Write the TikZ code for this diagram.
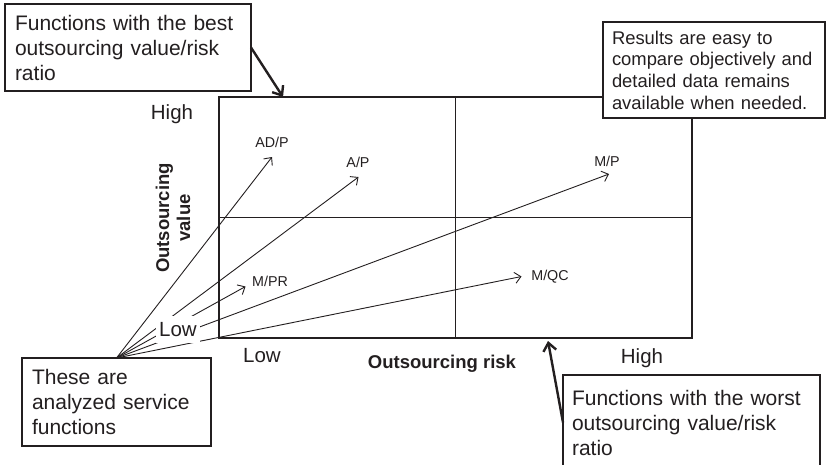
\documentclass[tikz,border=0pt]{standalone}
\usepackage{fontspec}
\setmainfont{Liberation Sans}
\usetikzlibrary{arrows.meta}
\definecolor{ink}{RGB}{35,31,32}

\begin{document}
\begin{tikzpicture}[x=1pt,y=-1pt,
  every node/.style={text=ink},
  callout/.style={draw=ink, line width=1.2pt, fill=white, anchor=north west,
    align=left, inner ysep=0pt, outer sep=0pt, font=\fontsize{21}{25}\selectfont},
  axislabel/.style={font=\fontsize{20.5}{24}\selectfont, inner sep=0pt},
  axistitle/.style={font=\bfseries\fontsize{18.5}{21}\selectfont, inner sep=0pt},
  funclabel/.style={font=\fontsize{14.3}{16}\selectfont, inner sep=0pt},
  fanline/.style={draw=ink, line width=0.9pt, -{Straight Barb[length=6pt,width=11pt]}},
  pointer/.style={draw=ink, line width=2.4pt, -{Straight Barb[length=8pt,width=13pt]}},
  divider/.style={draw=ink, line width=1.2pt}]

\useasboundingbox (0,0) rectangle (826,464);

% value/risk grid with its quadrant dividers
\node[draw=ink, line width=2.8pt, minimum width=473pt, minimum height=241pt,
  inner sep=0pt, outer sep=0pt] (grid) at (455.5,217.5) {};
\draw[divider] (grid.north) -- (grid.south);
\draw[divider] (grid.west) -- (grid.east);

% axis labels
\node[axislabel] (highv) at (172,114) {High};
\node[axislabel] (lowh) at (262,355.5) {Low};
\node[axislabel] (highh) at (642,358) {High};
\node[axistitle] (risk) at (442,363.5) {Outsourcing risk};
\node[axistitle, rotate=90, align=center] (value) at (173,218) {Outsourcing\\value};

% function labels and the points they sit at
\node[funclabel] (adp) at (272,142) {AD/P};
\node[funclabel] (ap) at (358,162) {A/P};
\node[funclabel] (mp) at (607,161) {M/P};
\node[funclabel] (mpr) at (270,281) {M/PR};
\node[funclabel] (mqc) at (550,277) {M/QC};
\coordinate (adpTip) at (272,157);
\coordinate (apTip) at (358.5,177);
\coordinate (mpTip) at (609,174);
\coordinate (mprTip) at (245.5,286.5);
\coordinate (mqcTip) at (521.5,276.5);

% callout boxes
\node[callout, inner xsep=10pt, text width=226pt, minimum height=87pt] (best) at (5,4)
  {Functions with the best\\outsourcing value/risk\\ratio};
\node[callout, inner xsep=10pt, text width=169pt, minimum height=88pt] (these) at (22,358)
  {These are\\analyzed service\\functions};
\node[callout, inner xsep=9pt, text width=239pt, minimum height=95pt] (worst) at (563,375)
  {Functions with the worst\\outsourcing value/risk\\ratio};

% fan of analysed functions
\draw[fanline] (these.north) -- (adpTip);
\draw[fanline] (these.north) -- (apTip);
\draw[fanline] (these.north) -- (mpTip);
\draw[fanline] (these.north) -- (mprTip);
\draw[fanline] (these.north) -- (mqcTip);

% low end of the value axis, masking the fan behind it
\node[axislabel, fill=white, inner xsep=3.5pt, inner ysep=6pt] (lowv) at (178,329.5) {Low};

% pointers to the best and worst corners
\coordinate (bestTip) at (283,97);
\coordinate (worstTip) at (548,341);
\draw[pointer] (best.east) -- (bestTip);
\draw[pointer] (worst.west) -- (worstTip);

% note over the top right corner
\node[callout, inner xsep=9pt, text width=204pt, minimum height=96pt,
  font=\fontsize{18.4}{21.7}\selectfont] (results) at (603,22)
  {Results are easy to\\compare objectively and\\detailed data remains\\available when needed.};
\end{tikzpicture}
\end{document}
